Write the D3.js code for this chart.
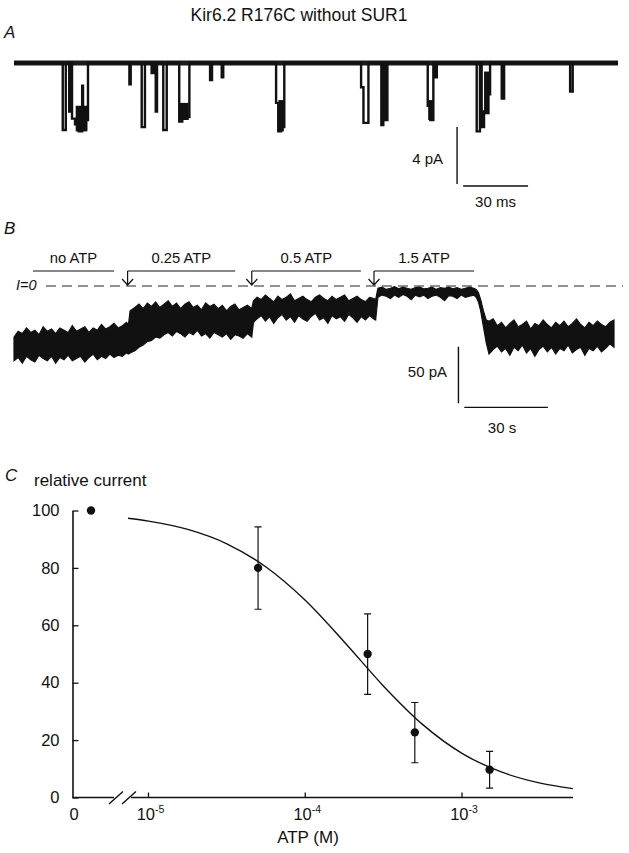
<!DOCTYPE html>
<html>
<head>
<meta charset="utf-8">
<script src="https://cdn.jsdelivr.net/npm/d3@7"></script>
<style>
  body { margin: 0; background: #fff; }
  svg { display: block; font-family: "Liberation Sans", Arial, sans-serif; }
</style>
</head>
<body>
<svg id="fig" width="629" height="853"></svg>
<script>
// ---- panel A: single-channel openings (ms, pA) ----
const A_DURATION = 280;
const A_EVENT_START = [22.6, 25.6, 26.9, 28.3, 30.0, 31.6, 32.0, 33.4, 53.5, 59.2, 63.8, 65.7, 69.2,
  76.6, 78.0, 79.5, 90.9, 96.3, 121.5, 122.5, 123.8, 124.5, 160.9, 162.0, 170.3, 172.0, 191.8, 193.0,
  195.2, 214.5, 216.8, 217.9, 219.3, 226.1, 257.8];
const A_EVENT_END = [24.0, 26.6, 28.3, 30.0, 31.6, 32.0, 33.4, 34.3, 54.1, 60.7, 64.9, 66.3, 70.8,
  78.0, 79.5, 81.3, 91.8, 97.0, 122.5, 123.8, 124.5, 125.3, 162.0, 164.3, 171.2, 173.1, 193.0, 194.4,
  196.0, 216.0, 217.9, 219.3, 220.7, 227.2, 259.0];
const A_EVENT_AMP = [-4.7, -3.4, -3.9, -4.3, -4.8, -1.6, -4.6, -4.0, -1.5, -4.5, -0.7, -3.4, -4.7,
  -4.1, -3.3, -3.8, -1.2, -1.0, -2.8, -4.8, -3.5, -4.5, -1.7, -4.2, -4.35, -4.0, -3.0, -4.0,
  -1.0, -4.8, -4.5, -3.4, -2.2, -2.5, -2.0];
// flickery bursts (ms, band of current in pA)
const A_BURST_START = [28.6, 76.9, 122.6, 192.0, 217.9];
const A_BURST_END = [34.0, 81.0, 125.1, 194.2, 220.5];
const A_BURST_HI = [-3.0, -2.8, -2.6, -2.6, -0.6];
const A_BURST_LO = [-4.8, -4.0, -4.8, -4.0, -3.6];

// ---- panel B: macroscopic current envelope (s, pA) ----
const B_TIME = [
  0, 1.5, 3, 4.5, 6, 7.5, 9, 10.5, 12, 13.5, 15, 16.5, 18, 19.5, 21, 22.5, 24, 25.5, 27, 28.5, 30, 31.5, 33, 34.5, 36, 37.5, 39, 40.5, 41.2,
  41.8, 43.5, 45, 46.5, 48, 49.5, 51, 52.5, 54, 55.5, 57, 58.5, 60, 61.5, 63, 64.5, 66, 67.5, 69, 70.5, 72, 73.5, 75, 76.5, 78, 79.5, 81, 82.5, 84, 85.6,
  86.2, 87.5, 89, 90.5, 92, 93.5, 95, 96.5, 98, 99.5, 101, 102.5, 104, 105.5, 107, 108.5, 110, 111.5, 113, 114.5, 116, 117.5, 119, 120.5, 122, 123.5, 125, 126.5, 128, 129.5, 130.2,
  131, 132.5, 134, 135.5, 137, 138.5, 140, 141.5, 143, 144.5, 146, 147.5, 149, 150.5, 152, 153.5, 155, 156.5, 158, 159.5, 161, 162.5, 164, 165.5, 166.4,
  167.2, 168, 169, 170,
  171, 172.5, 174, 175.5, 177, 178.5, 180, 181.5, 183, 184.5, 186, 187.5, 189, 190.5, 192, 193.5, 195, 196.5, 198, 199.5, 201, 202.5, 204, 205.5, 207, 208.5, 210, 211.5, 213, 214.5, 216];
const B_UPPER = [
  -45, -40, -42, -37, -41, -39, -43, -36, -40, -38, -42, -37, -39, -41, -35, -40, -38, -36, -41, -37, -39, -34, -38, -36, -33, -37, -35, -32, -34,
  -22, -19, -16, -20, -15, -18, -14, -19, -16, -13, -18, -15, -20, -16, -14, -19, -17, -21, -15, -18, -16, -20, -17, -22, -18, -16, -21, -19, -17, -20,
  -13, -10, -12, -8, -11, -14, -9, -12, -10, -7, -13, -11, -9, -12, -14, -10, -8, -11, -13, -9, -12, -10, -8, -13, -11, -9, -12, -14, -10, -11, -12,
  -2, -1, -3, -2, -0.5, -2.5, -1, -2, -3, -1.5, -1, -2.5, -2, -1, -3, -1.5, -2, -1, -2.5, -1.5, -3, -2, -1, -2, -3,
  -6, -12, -22, -30,
  -31, -29, -35, -32, -37, -33, -30, -36, -34, -31, -38, -33, -35, -30, -34, -37, -32, -35, -31, -36, -33, -29, -34, -37, -32, -35, -31, -34, -36, -32, -30];
const B_LOWER = [
  -66, -63, -68, -62, -65, -67, -61, -64, -66, -62, -68, -63, -65, -61, -66, -64, -62, -67, -63, -60, -65, -62, -64, -60, -63, -61, -62, -59, -60,
  -59, -57, -54, -52, -49, -48, -45, -46, -43, -41, -44, -40, -42, -45, -41, -43, -39, -44, -42, -46, -41, -43, -45, -42, -47, -43, -44, -46, -42, -45,
  -32, -29, -26, -31, -27, -33, -28, -25, -30, -27, -32, -26, -29, -31, -27, -24, -30, -28, -33, -26, -29, -27, -31, -25, -28, -32, -27, -30, -26, -29, -30,
  -10, -8, -9, -11, -8, -10, -7.5, -9, -12, -8, -9.5, -8, -11, -9, -8, -10, -13, -8.5, -9, -11, -8, -10, -9, -8, -10,
  -14, -22, -36, -50,
  -60, -56, -53, -58, -55, -61, -54, -57, -52, -59, -55, -62, -56, -53, -58, -54, -60, -55, -57, -52, -59, -56, -54, -61, -55, -57, -53, -58, -55, -51, -54];
const B_SOLUTIONS = ['no ATP', '0.25 ATP', '0.5 ATP', '1.5 ATP'];
const B_SOL_START = [6.8, 40.9, 85.6, 129.6];
const B_SOL_END = [36.0, 79.6, 124.9, 165.6];
const B_SOL_ARROW = [false, true, true, true];

// ---- panel C: ATP dose-response ----
const C_ATP = [5e-5, 2.5e-4, 5e-4, 1.5e-3];
const C_REL = [80, 50, 22.7, 9.7];
const C_ERR_HI = [94.3, 64, 33.1, 16.1];
const C_ERR_LO = [65.6, 35.9, 12.1, 3.3];
const C_ZERO_REL = 100;
const C_FIT_ATP = [7.4e-6, 1e-5, 1.78e-5, 3.16e-5, 5.62e-5, 1e-4, 1.78e-4, 3.16e-4, 5.62e-4, 1e-3, 1.78e-3, 3.16e-3, 5.1e-3];
const C_FIT_REL = [97.3, 96.3, 93.4, 88.4, 80.3, 68.7, 54.1, 38.8, 25.4, 15.4, 8.9, 5.0, 3.1];
const C_Y_TICKS = [0, 20, 40, 60, 80, 100];
const C_X_TICKS = [1e-5, 1e-4, 1e-3];
const C_X_EXP = ['-5', '-4', '-3'];

const svg = d3.select('#fig');
svg.append('rect').attr('width', 629).attr('height', 853).attr('fill', '#fff');

function label(x, y, str, size, opts = {}) {
  return svg.append('text')
    .attr('x', x).attr('y', y)
    .attr('font-size', size)
    .attr('text-anchor', opts.anchor || 'start')
    .attr('font-style', opts.italic ? 'italic' : null)
    .attr('fill', '#111')
    .text(str);
}

label(299, 21, 'Kir6.2 R176C without SUR1', 17.5, { anchor: 'middle' });

// ================= A =================
label(4, 38, 'A', 17, { italic: true });
const xA = d3.scaleLinear().domain([0, A_DURATION]).range([14, 618]);
const yA = d3.scaleLinear().domain([0, -4]).range([63, 120]);

const events = A_EVENT_START.map((s, i) => ({ start: s, end: A_EVENT_END[i], amp: A_EVENT_AMP[i] }));
const ptsA = [[0, 0]];
events.forEach((e, i) => {
  const prev = events[i - 1];
  const next = events[i + 1];
  if (!prev || prev.end < e.start) ptsA.push([e.start, 0]);
  ptsA.push([e.start, e.amp], [e.end, e.amp]);
  if (!next || next.start > e.end) ptsA.push([e.end, 0]);
});
ptsA.push([A_DURATION, 0]);

const gA = svg.append('g');
gA.append('line')
  .attr('x1', xA(0)).attr('x2', xA(A_DURATION))
  .attr('y1', yA(0)).attr('y2', yA(0))
  .attr('stroke', '#1a1a1a').attr('stroke-width', 5);
gA.selectAll('rect.burst')
  .data(A_BURST_START.map((s, i) => ({ s, e: A_BURST_END[i], hi: A_BURST_HI[i], lo: A_BURST_LO[i] })))
  .join('rect').attr('class', 'burst')
  .attr('x', (d) => xA(d.s)).attr('width', (d) => xA(d.e) - xA(d.s))
  .attr('y', (d) => yA(d.hi)).attr('height', (d) => yA(d.lo) - yA(d.hi))
  .attr('fill', '#111');
gA.append('path')
  .attr('d', d3.line().x((d) => xA(d[0])).y((d) => yA(d[1]))(ptsA))
  .attr('fill', 'none').attr('stroke', '#111').attr('stroke-width', 2.4);

// scale bar A
gA.append('path')
  .attr('d', `M${xA(205.4)},${yA(-4.49)}V${yA(-8.49)}M${xA(208.2)},${yA(-8.63)}H${xA(238.3)}`)
  .attr('fill', 'none').attr('stroke', '#111').attr('stroke-width', 1.4);
label(443, 164, '4 pA', 15, { anchor: 'end' });
label(495.5, 207, '30 ms', 15, { anchor: 'middle' });

// ================= B =================
label(4, 234, 'B', 17, { italic: true });
const xB = d3.scaleLinear().domain([0, 216]).range([14, 614]);
const yB = d3.scaleLinear().domain([0, -50]).range([286, 342.7]);
const gB = svg.append('g');

const bData = B_TIME.map((t, i) => ({ t, hi: B_UPPER[i], lo: B_LOWER[i] }));
gB.append('path')
  .attr('d', d3.area().x((d) => xB(d.t)).y0((d) => yB(d.lo)).y1((d) => yB(d.hi))(bData))
  .attr('fill', '#111').attr('stroke', '#111').attr('stroke-width', 1.2)
  .attr('stroke-linejoin', 'miter');

// I=0 dashed line
gB.append('line')
  .attr('x1', 46).attr('x2', 623)
  .attr('y1', yB(0)).attr('y2', yB(0))
  .attr('stroke', '#222').attr('stroke-width', 1.2)
  .attr('stroke-dasharray', '10,6');
label(16, 290, 'I=0', 14.5, { italic: true });

// solution bars
const barY = 271;
B_SOLUTIONS.forEach((name, i) => {
  const x0 = xB(B_SOL_START[i]);
  const x1 = xB(B_SOL_END[i]);
  let d = `M${x0},${barY}H${x1}`;
  if (B_SOL_ARROW[i]) {
    const tip = yB(0) - 1;
    d += `M${x0},${barY}V${tip}M${x0 - 5.5},${tip - 6}L${x0},${tip}L${x0 + 5.5},${tip - 6}`;
  }
  gB.append('path').attr('d', d).attr('fill', 'none').attr('stroke', '#111').attr('stroke-width', 1.2);
  label((x0 + x1) / 2, 262.5, name, 14.8, { anchor: 'middle' });
});

// scale bar B
gB.append('path')
  .attr('d', `M${xB(160)},${yB(-53.5)}V${yB(-103.5)}M${xB(162.1)},${yB(-107)}H${xB(192.2)}`)
  .attr('fill', 'none').attr('stroke', '#111').attr('stroke-width', 1.4);
label(447, 377, '50 pA', 15, { anchor: 'end' });
label(502, 433, '30 s', 15, { anchor: 'middle' });

// ================= C =================
label(5, 481, 'C', 17, { italic: true });
label(34, 486, 'relative current', 17);

const axisX = 72.5;
const yC = d3.scaleLinear().domain([0, 100]).range([797.5, 510.5]);
const xC = d3.scaleLog().domain([1e-5, 1e-3]).range([148.5, 462]);
const xZero = axisX + 18.5;
const xEnd = 573;
const gC = svg.append('g');

const yAxis = d3.axisLeft(yC).tickValues(C_Y_TICKS).tickSizeInner(-6).tickSizeOuter(0).tickPadding(13);
gC.append('g').attr('transform', `translate(${axisX},0)`).call(yAxis)
  .call((g) => g.select('.domain').attr('stroke', '#111').attr('stroke-width', 1.6))
  .call((g) => g.selectAll('.tick line').attr('stroke', '#111').attr('stroke-width', 1.3))
  .call((g) => g.selectAll('.tick text').attr('font-size', 16.5).attr('fill', '#111')
    .attr('font-family', '"Liberation Sans", Arial, sans-serif'));

// x axis with break
const axisY = yC(0);
const brk1 = 116;
const brk2 = 129;
gC.append('path')
  .attr('d', `M${axisX},${axisY}H${brk1 - 2}M${brk2 + 2},${axisY}H${xEnd}`)
  .attr('stroke', '#111').attr('stroke-width', 1.6).attr('fill', 'none');
gC.append('path')
  .attr('d', [brk1, brk2].map((b) => `M${b - 7},${axisY + 6.5}L${b + 7},${axisY - 6}`).join(''))
  .attr('stroke', '#111').attr('stroke-width', 1.4).attr('fill', 'none');
C_X_TICKS.forEach((v, i) => {
  const x = xC(v);
  gC.append('line').attr('x1', x).attr('x2', x).attr('y1', axisY).attr('y2', axisY - 5)
    .attr('stroke', '#111').attr('stroke-width', 1.3);
  const t = gC.append('text').attr('x', x + 2).attr('y', 820).attr('text-anchor', 'middle')
    .attr('font-size', 16.5).attr('fill', '#111');
  t.append('tspan').text('10');
  t.append('tspan').attr('font-size', 10.5).attr('dy', -7).text(C_X_EXP[i]);
});
label(axisX + 1.5, 820, '0', 16.5, { anchor: 'middle' });
label(308, 843, 'ATP (M)', 17, { anchor: 'middle' });

// fitted curve
const fit = C_FIT_ATP.map((c, i) => [c, C_FIT_REL[i]]);
gC.append('path')
  .attr('d', d3.line().x((d) => xC(d[0])).y((d) => yC(d[1])).curve(d3.curveMonotoneX)(fit))
  .attr('fill', 'none').attr('stroke', '#111').attr('stroke-width', 1.4);

// error bars + points
const pts = C_ATP.map((c, i) => ({ c, v: C_REL[i], hi: C_ERR_HI[i], lo: C_ERR_LO[i] }));
gC.selectAll('path.err').data(pts).join('path').attr('class', 'err')
  .attr('d', (d) => {
    const x = xC(d.c);
    return `M${x},${yC(d.hi)}V${yC(d.lo)}M${x - 3.5},${yC(d.hi)}H${x + 3.5}M${x - 3.5},${yC(d.lo)}H${x + 3.5}`;
  })
  .attr('stroke', '#111').attr('stroke-width', 1.2).attr('fill', 'none');
gC.selectAll('circle.pt').data(pts).join('circle').attr('class', 'pt')
  .attr('cx', (d) => xC(d.c)).attr('cy', (d) => yC(d.v)).attr('r', 4.2).attr('fill', '#111');
gC.append('circle').attr('cx', xZero).attr('cy', yC(C_ZERO_REL)).attr('r', 4.2).attr('fill', '#111');
</script>
</body>
</html>
